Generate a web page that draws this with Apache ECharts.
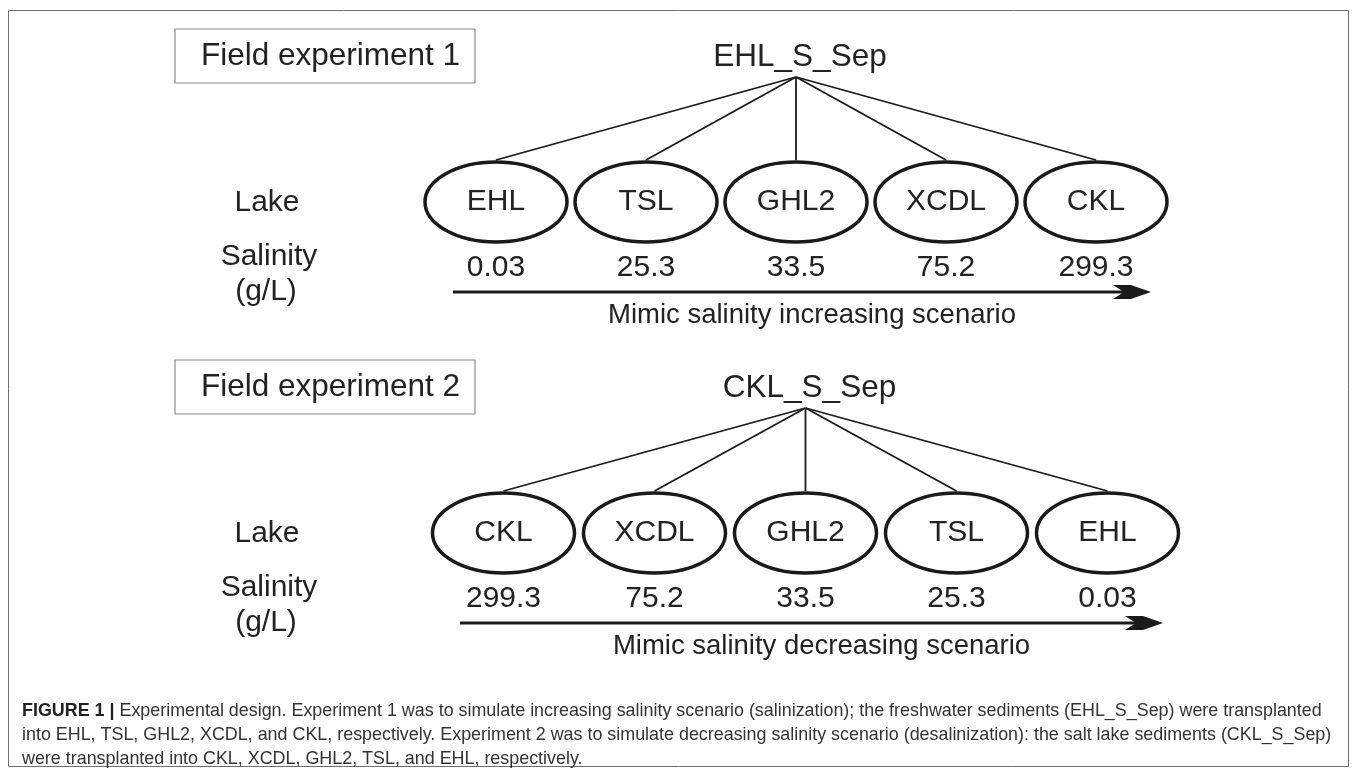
<!DOCTYPE html>
<html>
<head>
<meta charset="utf-8">
<title>Experimental design</title>
<script src="https://cdn.jsdelivr.net/npm/echarts@6/dist/echarts.min.js"></script>
<style>
html, body { margin: 0; padding: 0; background: #fff; }
#main { width: 1357px; height: 773px; }
</style>
</head>
<body>
<div id="main"></div>
<script>
// 实验1：淡水沉积物移植到盐度递增的湖泊
var lakes1 = ['EHL', 'TSL', 'GHL2', 'XCDL', 'CKL'];
var salinity1 = [0.03, 25.3, 33.5, 75.2, 299.3];
// 实验2：盐湖沉积物移植到盐度递减的湖泊
var lakes2 = ['CKL', 'XCDL', 'GHL2', 'TSL', 'EHL'];
var salinity2 = [299.3, 75.2, 33.5, 25.3, 0.03];

var roots = ['EHL_S_Sep', 'CKL_S_Sep'];
var titles = ['Field experiment 1', 'Field experiment 2'];
var scenarios = ['Mimic salinity increasing scenario', 'Mimic salinity decreasing scenario'];
var captionLines = [
    'Experimental design. Experiment 1 was to simulate increasing salinity scenario (salinization); the freshwater sediments (EHL_S_Sep) were transplanted',
    'into EHL, TSL, GHL2, XCDL, and CKL, respectively. Experiment 2 was to simulate decreasing salinity scenario (desalinization): the salt lake sediments (CKL_S_Sep)',
    'were transplanted into CKL, XCDL, GHL2, TSL, and EHL, respectively.'
];

var FONT = '"Liberation Sans", Arial, sans-serif';
var INK = '#1a1a1a';

// 每个湖泊：连线 + 椭圆 + 名称 + 盐度
function lakeRender(lakes, sal) {
    return function (params, api) {
        var i = api.value(0);
        var cs = params.coordSys;
        var x = api.coord([i, 0])[0];
        var top = cs.y;
        var rootX = cs.x + cs.width / 2;
        return {
            type: 'group',
            children: [
                { type: 'line', shape: { x1: rootX, y1: top, x2: x, y2: top + 83 },
                  style: { stroke: INK, lineWidth: 1.8 } },
                { type: 'ellipse', shape: { cx: x, cy: top + 125, rx: 71, ry: 40 },
                  style: { fill: '#fff', stroke: INK, lineWidth: 3.5 } },
                { type: 'text', x: x, y: top + 125,
                  style: { text: lakes[i], fontSize: 30, fontFamily: FONT, fill: '#222', align: 'center', verticalAlign: 'middle' } },
                { type: 'text', x: x, y: top + 191,
                  style: { text: String(sal[i]), fontSize: 30, fontFamily: FONT, fill: '#222', align: 'center', verticalAlign: 'middle' } }
            ]
        };
    };
}

// 根节点 + 箭头 + 情景说明
function rootRender(k) {
    return function (params, api) {
        var cs = params.coordSys;
        var top = cs.y;
        var cx = cs.x + cs.width / 2;
        var ay = top + 215;
        var x0 = cs.x + 32;
        var x1 = cs.x + cs.width - 20;
        return {
            type: 'group',
            children: [
                { type: 'text', x: cx + 4, y: top - 20,
                  style: { text: roots[k], fontSize: 31.5, fontFamily: FONT, fill: '#222', align: 'center', verticalAlign: 'middle' } },
                { type: 'line', shape: { x1: x0, y1: ay, x2: x1 - 26, y2: ay },
                  style: { stroke: INK, lineWidth: 3 } },
                { type: 'polygon',
                  shape: { points: [[x1, ay], [x1 - 20, ay - 7], [x1 - 38, ay - 7], [x1 - 27, ay], [x1 - 38, ay + 7], [x1 - 20, ay + 7]] },
                  style: { fill: INK } },
                { type: 'text', x: cx + 16, y: top + 238,
                  style: { text: scenarios[k], fontSize: 27.5, fontFamily: FONT, fill: '#222', align: 'center', verticalAlign: 'middle' } }
            ]
        };
    };
}

function sideLabels(dy) {
    var st = { fontSize: 30, fontFamily: FONT, fill: '#222', align: 'center', verticalAlign: 'middle' };
    return [
        { type: 'rect', shape: { x: 175, y: 29 + dy, width: 300, height: 54 },
          style: { fill: '#fff', stroke: '#8c8c8c', lineWidth: 1.2 } },
        { type: 'text', x: 201, y: 56 + dy,
          style: { text: titles[dy ? 1 : 0], fontSize: 31.5, fontFamily: FONT, fill: '#222', align: 'left', verticalAlign: 'middle' } },
        { type: 'text', x: 267, y: 203 + dy, style: Object.assign({ text: 'Lake' }, st) },
        { type: 'text', x: 269, y: 257 + dy, style: Object.assign({ text: 'Salinity' }, st) },
        { type: 'text', x: 266, y: 292 + dy, style: Object.assign({ text: '(g/L)' }, st) }
    ];
}

var graphics = [
    { type: 'rect', shape: { x: 8.5, y: 10.5, width: 1340, height: 756 },
      style: { fill: 'none', stroke: '#6e6e6e', lineWidth: 1 } }
].concat(sideLabels(0), sideLabels(331));

captionLines.forEach(function (line, j) {
    graphics.push({
        type: 'text', x: 22, y: 711 + j * 24,
        style: {
            text: j === 0 ? '{b|FIGURE 1 |} ' + line : line,
            fontSize: 17.9, fontFamily: FONT, fill: '#333', verticalAlign: 'middle', align: 'left',
            rich: { b: { fontSize: 17.9, fontFamily: FONT, fontWeight: 'bold', fill: '#222' } }
        }
    });
});

var chart = echarts.init(document.getElementById('main'));
var option = {
    animation: false,
    grid: [
        { left: 421, width: 750, top: 77, height: 240 },
        { left: 428, width: 755, top: 408, height: 240 }
    ],
    xAxis: [
        { type: 'category', data: lakes1, gridIndex: 0, show: false },
        { type: 'category', data: lakes2, gridIndex: 1, show: false }
    ],
    yAxis: [
        { type: 'value', min: 0, max: 1, gridIndex: 0, show: false },
        { type: 'value', min: 0, max: 1, gridIndex: 1, show: false }
    ],
    series: [
        { type: 'custom', xAxisIndex: 0, yAxisIndex: 0, renderItem: rootRender(0), data: [[2, 0]] },
        { type: 'custom', xAxisIndex: 0, yAxisIndex: 0, renderItem: lakeRender(lakes1, salinity1),
          data: lakes1.map(function (n, i) { return [i, 0]; }) },
        { type: 'custom', xAxisIndex: 1, yAxisIndex: 1, renderItem: rootRender(1), data: [[2, 0]] },
        { type: 'custom', xAxisIndex: 1, yAxisIndex: 1, renderItem: lakeRender(lakes2, salinity2),
          data: lakes2.map(function (n, i) { return [i, 0]; }) }
    ],
    graphic: graphics
};
chart.setOption(option);
</script>
</body>
</html>
